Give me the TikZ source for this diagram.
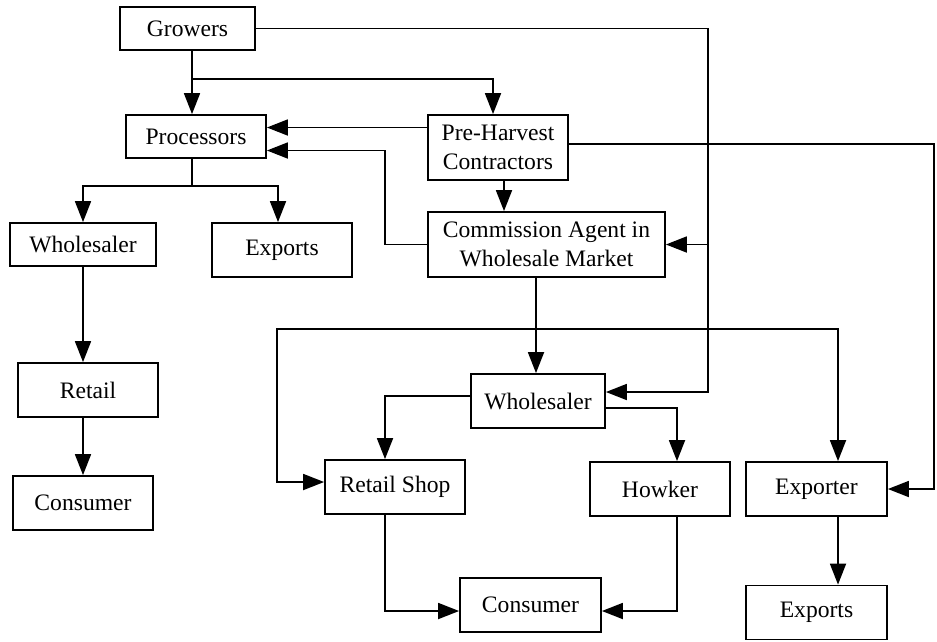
\documentclass[tikz,border=0pt]{standalone}
\usepackage{fontspec}
\setmainfont{Liberation Serif}
\usepackage{tikz}
\usetikzlibrary{arrows.meta,positioning}

\begin{document}
\begin{tikzpicture}[x=1pt, y=-1pt,
  box/.style={draw, line width=1.8pt, inner sep=0pt, align=center,
    minimum width=140pt, minimum height=54pt,
    font=\fontsize{23.6}{28.5}\selectfont},
  flow/.style={line width=1.8pt, -{Triangle[length=21pt,width=16pt]}},
  wire/.style={line width=1.8pt}]
\useasboundingbox (0,0) rectangle (937,641);

\node[box, minimum width=135pt, minimum height=43pt] (growers) at (187.5,28.5) {Growers};
\node[box, minimum height=43pt] (proc) at (196,136.5) {Processors};
\node[box, minimum height=65pt] (prehar) at (498,147.5) {Pre-Harvest\\Contractors};
\node[box, minimum width=237pt, minimum height=65pt] (comm) at (546.5,244.5) {Commission Agent in\\Wholesale Market};
\node[box, minimum width=146pt, minimum height=43pt] (whlA) at (83,244.5) {Wholesaler};
\node[box] (expA) at (282,250) {Exports};
\node[box] (retail) at (88,390) {Retail};
\node[box] (consA) at (83,503) {Consumer};
\node[box, minimum width=134pt] (whlB) at (538,401) {Wholesaler};
\node[box] (shop) at (395,487) {Retail Shop};
\node[box] (howker) at (660,489) {Howker};
\node[box, minimum width=141pt] (consB) at (530.5,605) {Consumer};
\node[box, minimum width=141pt] (exporter) at (816.5,489) {Exporter};
\node[box, minimum width=141pt] (expB) at (816.5,612.5) {Exports};

\coordinate (gsplit) at (192,79);
\coordinate (gcol) at (708,0);
\coordinate (ccol) at (385,0);
\coordinate (ecol) at (934,0);
\coordinate (psplit) at (192,186);
\coordinate (csplit) at (536,329);
\coordinate (scol) at (277,0);
\coordinate (procL) at ([yshift=-14pt]proc.east);
\coordinate (whlBin) at ([yshift=9pt]whlB.east);
\coordinate (shopin) at ([yshift=5pt]shop.west);

\draw[flow] (gsplit |- growers.south) -- (gsplit |- proc.north);
\draw[flow] (gsplit) -| ([xshift=-5pt]prehar.north);
\draw[flow] (growers.east) -| (gcol |- whlBin) -- (whlBin);
\draw[flow] (gcol |- comm.east) -- (comm.east);
\draw[flow] ([yshift=20pt]prehar.west) -- ([yshift=20pt]prehar.west -| proc.east);
\draw[flow] (comm.west) -| (ccol |- procL) -- (procL);
\draw[flow] ([xshift=6pt]prehar.south) -- ([xshift=6pt]prehar.south |- comm.north);
\draw[flow] ([yshift=3.5pt]prehar.east) -| (ecol |- exporter.east) -- (exporter.east);
\draw[wire] (psplit |- proc.south) -- (psplit);
\draw[flow] (psplit) -| (whlA.north);
\draw[flow] (psplit) -| ([xshift=-4pt]expA.north);
\draw[flow] (whlA.south) -- (whlA.south |- retail.north);
\draw[flow] (consA.north |- retail.south) -- (consA.north);
\draw[wire] (csplit |- comm.south) -- (csplit);
\draw[flow] (csplit) -- (csplit |- whlB.north);
\draw[flow] (csplit) -| (scol |- shopin) -- (shopin);
\draw[flow] (csplit) -| ([xshift=21.5pt]exporter.north);
\draw[flow] ([yshift=5pt]whlB.west) -| ([xshift=-10pt]shop.north);
\draw[flow] ([yshift=-7pt]whlB.east) -| ([xshift=17pt]howker.north);
\draw[flow] ([xshift=-10pt]shop.south) |- ([yshift=-6pt]consB.west);
\draw[flow] ([xshift=17pt]howker.south) |- ([yshift=-6pt]consB.east);
\draw[flow] ([xshift=21.5pt]exporter.south) -- ([xshift=21.5pt]expB.north);
\end{tikzpicture}
\end{document}
